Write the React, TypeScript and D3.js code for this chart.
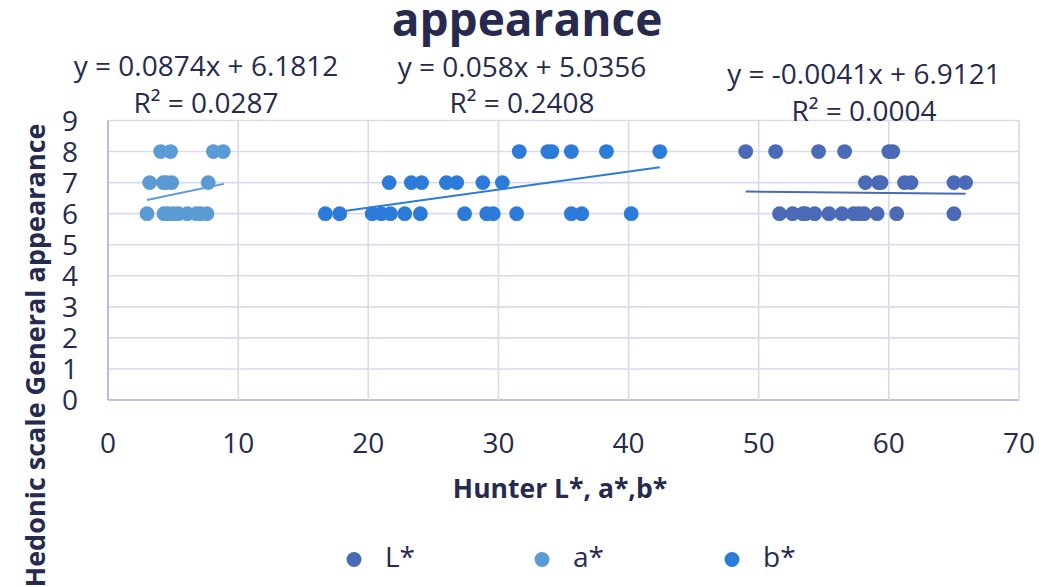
import React from "react";
import * as d3 from "d3";

// x values (Hunter colour) and hedonic scores, one pair of arrays per series
const lStarX = [49.0, 51.3, 54.6, 56.6, 60.0, 60.3, 58.2, 59.2, 59.4, 61.2, 61.7, 65.0, 65.9, 51.6, 52.6, 53.4, 53.6, 54.3, 55.4, 56.4, 57.3, 57.7, 58.1, 59.1, 60.6, 65.0];
const lStarY = [8, 8, 8, 8, 8, 8, 7, 7, 7, 7, 7, 7, 7, 6, 6, 6, 6, 6, 6, 6, 6, 6, 6, 6, 6, 6];

const aStarX = [4.05, 4.8, 8.1, 8.85, 3.2, 4.25, 4.5, 4.9, 7.7, 3.0, 4.3, 4.6, 5.0, 5.4, 6.1, 6.8, 7.1, 7.6];
const aStarY = [8, 8, 8, 8, 7, 7, 7, 7, 7, 6, 6, 6, 6, 6, 6, 6, 6, 6];

const bStarX = [31.6, 33.8, 34.1, 35.6, 38.3, 42.4, 21.6, 23.3, 24.1, 26.0, 26.8, 28.8, 30.3, 16.7, 17.8, 20.3, 21.0, 21.7, 22.8, 24.0, 27.4, 29.1, 29.6, 31.4, 35.6, 36.4, 40.2];
const bStarY = [8, 8, 8, 8, 8, 8, 7, 7, 7, 7, 7, 7, 7, 6, 6, 6, 6, 6, 6, 6, 6, 6, 6, 6, 6, 6, 6];

const seriesNames = ["L*", "a*", "b*"];
const seriesColors = ["#4A69B6", "#5B9BD5", "#2C7BDA"];

// linear trendlines as labelled on the chart: [slope, intercept], and their x span
const trendSlopes = [-0.0041, 0.0874, 0.058];
const trendIntercepts = [6.9121, 6.1812, 5.0356];
const trendR2 = ["0.0004", "0.0287", "0.2408"];
const trendSpans = [[49.0, 65.9], [3.0, 8.9], [18.3, 42.4]];

const xTicks = [0, 10, 20, 30, 40, 50, 60, 70];
const yTicks = [0, 1, 2, 3, 4, 5, 6, 7, 8, 9];

const W = 1047;
const H = 587;
const INK = "#262A4E";
const GRID = "#D9D9F0";
const AXIS = "#A9A9E4";
const FONT = "'Open Sans', sans-serif";

const fmt = (v: number) => (v < 0 ? "-" + Math.abs(v) : String(v));

export default function App() {
  const x = d3.scaleLinear().domain([0, 70]).range([108, 1019]);
  const y = d3.scaleLinear().domain([0, 9]).range([400, 120.5]);

  const series = [
    { xs: lStarX, ys: lStarY },
    { xs: aStarX, ys: aStarY },
    { xs: bStarX, ys: bStarY },
  ];

  const line = d3
    .line<number>()
    .x((d) => x(d))
    .y((d) => d);

  // equation label placement (centre x, baselines of the two lines)
  const labelPos = [
    { cx: 864, b1: 84, b2: 121 },
    { cx: 206, b1: 76, b2: 113 },
    { cx: 522, b1: 77, b2: 113 },
  ];

  const legendX = [354, 542, 732];

  return (
    <svg
      width={W}
      height={H}
      style={{ position: "absolute", left: 0, top: 0, background: "#fff" }}
      fontFamily={FONT}
    >
      <rect width={W} height={H} fill="#fff" />

      {/* grid */}
      {yTicks.map((t) => (
        <line key={"gy" + t} x1={x(0)} x2={x(70)} y1={y(t)} y2={y(t)} stroke={t === 0 ? AXIS : GRID} strokeWidth={1.6} />
      ))}
      {xTicks.map((t) => (
        <line key={"gx" + t} x1={x(t)} x2={x(t)} y1={y(0)} y2={y(9)} stroke={t === 0 ? AXIS : GRID} strokeWidth={1.6} />
      ))}

      {/* tick labels */}
      {yTicks.map((t) => (
        <text key={"ty" + t} x={78} y={y(t)} dy="0.36em" textAnchor="end" fontSize={28} fill={INK}>
          {t}
        </text>
      ))}
      {xTicks.map((t) => (
        <text key={"tx" + t} x={x(t)} y={453} textAnchor="middle" fontSize={28} fill={INK}>
          {t}
        </text>
      ))}

      {/* points */}
      {series.map((s, i) => (
        <g key={"s" + i} fill={seriesColors[i]}>
          {s.xs.map((v, j) => (
            <circle key={j} cx={x(v)} cy={y(s.ys[j])} r={7.4} />
          ))}
        </g>
      ))}

      {/* trendlines */}
      {series.map((_, i) => {
        const [a, b] = trendSpans[i];
        const f = (v: number) => y(trendSlopes[i] * v + trendIntercepts[i]);
        const path = d3
          .line<number>()
          .x((d) => x(d))
          .y((d) => f(d))([a, b]);
        return <path key={"tr" + i} d={path || ""} stroke={seriesColors[i]} strokeWidth={2} fill="none" />;
      })}

      {/* trendline labels */}
      {labelPos.map((p, i) => (
        <g key={"lab" + i} fontSize={28} fill={INK} textAnchor="middle">
          <text x={p.cx} y={p.b1}>
            {`y = ${fmt(trendSlopes[i])}x + ${trendIntercepts[i]}`}
          </text>
          <text x={p.cx} y={p.b2}>
            {`R² = ${trendR2[i]}`}
          </text>
        </g>
      ))}

      {/* title */}
      <text x={527} y={36} textAnchor="middle" fontSize={46} fontWeight="bold" fill={INK}>
        appearance
      </text>

      {/* axis titles */}
      <text x={560} y={498} textAnchor="middle" fontSize={26.5} fontWeight="bold" fill={INK}>
        Hunter L*, a*,b*
      </text>
      <text
        transform="translate(45,355.5) rotate(-90)"
        textAnchor="middle"
        fontSize={27}
        fontWeight="bold"
        fill={INK}
      >
        Hedonic scale General appearance
      </text>

      {/* legend */}
      {seriesNames.map((n, i) => (
        <g key={"lg" + i}>
          <circle cx={legendX[i]} cy={559.5} r={7.5} fill={seriesColors[i]} />
          <text x={legendX[i] + 31} y={567} fontSize={28} fill={INK}>
            {n}
          </text>
        </g>
      ))}
    </svg>
  );
}
